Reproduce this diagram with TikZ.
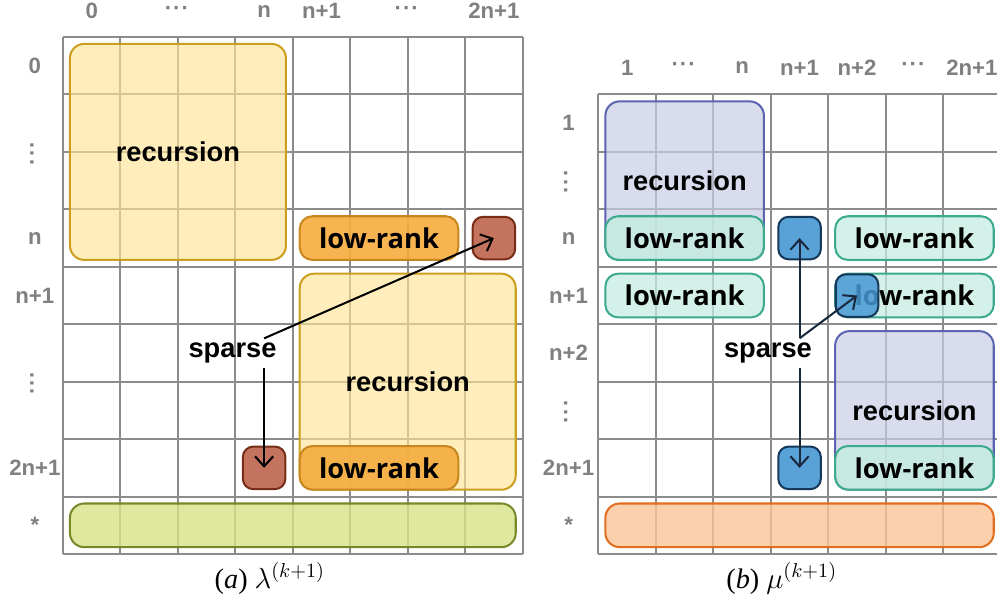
\documentclass[tikz,border=0pt]{standalone}
\usepackage{tikz}
\usepackage{amsmath}
\usepackage{fontspec}
\setmainfont{Liberation Sans}
\newfontfamily\lrfont{Open Sans}
\newfontfamily\capfont{Liberation Serif}
\usetikzlibrary{arrows.meta,calc}
\definecolor{grid_gray}{RGB}{140, 140, 140}
\definecolor{lab_gray}{RGB}{128, 128, 128}
\definecolor{rec_yellow}{RGB}{255, 228, 150}
\definecolor{rec_gold}{RGB}{204, 158, 30}
\definecolor{lr_orange}{RGB}{246, 172, 62}
\definecolor{lr_brown}{RGB}{200, 135, 30}
\definecolor{sp_red}{RGB}{196, 116, 94}
\definecolor{sp_dark}{RGB}{120, 45, 25}
\definecolor{bar_green}{RGB}{214, 228, 135}
\definecolor{bar_olive}{RGB}{122, 135, 40}
\definecolor{rec_lav}{RGB}{200, 205, 228}
\definecolor{rec_blue}{RGB}{90, 100, 175}
\definecolor{lr_teal}{RGB}{196, 236, 224}
\definecolor{lr_green}{RGB}{60, 170, 140}
\definecolor{sp_blue}{RGB}{70, 152, 212}
\definecolor{sp_navy}{RGB}{20, 55, 90}
\definecolor{bar_peach}{RGB}{252, 196, 152}
\definecolor{bar_orange}{RGB}{224, 110, 30}
\definecolor{arr_navy}{RGB}{25, 40, 60}
\newcommand{\boxfont}{\fontsize{13.5}{16}\selectfont\bfseries}
\newcommand{\dotrow}{\kern-1pt·\kern0.5pt·\kern0.5pt·}
\tikzstyle{gridline}=[draw=grid_gray,line width=1pt]
\tikzstyle{lab}=[text=lab_gray,font=\fontsize{11}{13}\selectfont\bfseries,inner sep=0pt]
\tikzstyle{vlab}=[lab,rotate=90]
\tikzstyle{blk}=[rectangle,inner sep=0pt,line width=1pt,text opacity=1,font=\boxfont]
\tikzstyle{rcy}=[blk,rounded corners=0.25cm,fill=rec_yellow,fill opacity=0.65,draw=rec_gold,
  minimum width=3.76cm,minimum height=3.76cm]
\tikzstyle{rcb}=[blk,rounded corners=0.25cm,fill=rec_lav,fill opacity=0.7,draw=rec_blue,
  minimum width=2.76cm,minimum height=2.76cm]
\tikzstyle{lro}=[blk,rounded corners=0.22cm,fill=lr_orange,fill opacity=0.9,draw=lr_brown,
  minimum width=2.76cm,minimum height=0.76cm,font=\boxfont\lrfont]
\tikzstyle{lrt}=[blk,rounded corners=0.22cm,fill=lr_teal,fill opacity=0.75,draw=lr_green,
  minimum width=2.76cm,minimum height=0.76cm,font=\boxfont\lrfont]
\tikzstyle{spr}=[blk,rounded corners=0.18cm,fill=sp_red,draw=sp_dark,
  minimum width=0.74cm,minimum height=0.74cm]
\tikzstyle{spb}=[blk,rounded corners=0.18cm,fill=sp_blue,fill opacity=0.9,draw=sp_navy,
  minimum width=0.74cm,minimum height=0.74cm]
\tikzstyle{bar}=[blk,rounded corners=0.25cm,fill opacity=0.8,minimum height=0.76cm]
\tikzstyle{note}=[font=\boxfont,inner sep=2pt]
\tikzstyle{subcap}=[font=\fontsize{14}{16}\selectfont\capfont]

\begin{document}
\begin{tikzpicture}[x=1cm,y=-1cm,>={Straight Barb[length=5pt,width=9pt]}]
    \useasboundingbox (-1.097,-0.644) rectangle (16.257,9.852);

    % lambda: 9 rows x 8 columns
    \draw [style=gridline] (0,0) grid (8,9);
    \foreach \x/\t [count=\i] in {0.5/0, 3.5/n, 4.5/n+1, 7.5/2n+1}
        \node [style=lab] (colA\i) at (\x,-0.45) {\t};
    \node [style=lab] (colAd1) at (2,-0.45) {\dotrow};
    \node [style=lab] (colAd2) at (6,-0.45) {\dotrow};
    \foreach \y/\t [count=\i] in {0.5/0, 3.5/n, 4.5/n+1, 7.5/2n+1, 8.5/*}
        \node [style=lab] (rowA\i) at (-0.49,\y) {\t};
    \node [style=vlab] (rowAd1) at (-0.49,2) {\dotrow};
    \node [style=vlab] (rowAd2) at (-0.49,6) {\dotrow};

    \node [style=rcy] (recA1) at (2,2) {recursion};
    \node [style=rcy] (recA2) at (6,6) {};
    \node [font=\boxfont] (recA2t) at (6,6) {recursion};
    \node [style=lro] (lrA1) at (5.5,3.5) {low-rank};
    \node [style=lro] (lrA2) at (5.5,7.5) {low-rank};
    \node [style=spr] (spA1) at (7.5,3.5) {};
    \node [style=spr] (spA2) at (3.5,7.5) {};
    \node [style=bar,fill=bar_green,draw=bar_olive,minimum width=7.76cm] (barA) at (4,8.5) {};

    \node [style=note] (sparseA) at (2.95,5.5) {sparse};
    \draw [->,line width=1pt] (sparseA.north -| spA2) to (spA1.center);
    \draw [->,line width=1pt] (sparseA.south -| spA2) to (spA2.center);

    \node [style=subcap] (capA) at (3.6,9.42) {(\textit{a}) $\lambda^{(k+1)}$};

    % mu: 8 rows x 7 columns
    \begin{scope}[shift={(9.32,1)}]
        \draw [style=gridline] (0,0) grid (7,8);
        \foreach \x/\t [count=\i] in {0.5/1, 2.5/n, 3.5/n+1, 4.5/n+2, 6.5/2n+1}
            \node [style=lab] (colB\i) at (\x,-0.47) {\t};
        \node [style=lab] (colBd1) at (1.5,-0.47) {\dotrow};
        \node [style=lab] (colBd2) at (5.5,-0.47) {\dotrow};
        \foreach \y/\t [count=\i] in {0.5/1, 2.5/n, 3.5/n+1, 4.5/n+2, 6.5/2n+1, 7.5/*}
            \node [style=lab] (rowB\i) at (-0.52,\y) {\t};
        \node [style=vlab] (rowBd1) at (-0.52,1.5) {\dotrow};
        \node [style=vlab] (rowBd2) at (-0.52,5.5) {\dotrow};

        \node [style=rcb] (recB1) at (1.5,1.5) {};
        \node [font=\boxfont] (recB1t) at (1.5,1.5) {recursion};
        \node [style=rcb] (recB2) at (5.5,5.5) {};
        \node [font=\boxfont] (recB2t) at (5.5,5.5) {recursion};
        \node [style=lrt] (lrB1) at (1.5,2.5) {low-rank};
        \node [style=lrt] (lrB2) at (5.5,2.5) {low-rank};
        \node [style=lrt] (lrB3) at (1.5,3.5) {low-rank};
        \node [style=lrt] (lrB4) at (5.5,3.5) {low-rank};
        \node [style=lrt] (lrB5) at (5.5,6.5) {low-rank};
        \node [style=spb] (spB1) at (3.5,2.5) {};
        \node [style=spb,fill opacity=0.85] (spB2) at (4.5,3.5) {};
        \node [style=spb] (spB3) at (3.5,6.5) {};
        \node [style=bar,fill=bar_peach,draw=bar_orange,minimum width=6.76cm] (barB) at (3.5,7.5) {};

        \node [style=note] (sparseB) at (2.95,4.5) {sparse};
        \draw [->,line width=1pt,draw=arr_navy] (sparseB.north -| spB1) to (spB1.center);
        \draw [->,line width=1pt,draw=arr_navy] (sparseB.north -| spB1) to (spB2.center);
        \draw [->,line width=1pt,draw=arr_navy] (sparseB.south -| spB3) to (spB3.center);

        \node [style=subcap] (capB) at (3.19,8.42) {(\textit{b}) $\mu^{(k+1)}$};
    \end{scope}
\end{tikzpicture}
\end{document}
